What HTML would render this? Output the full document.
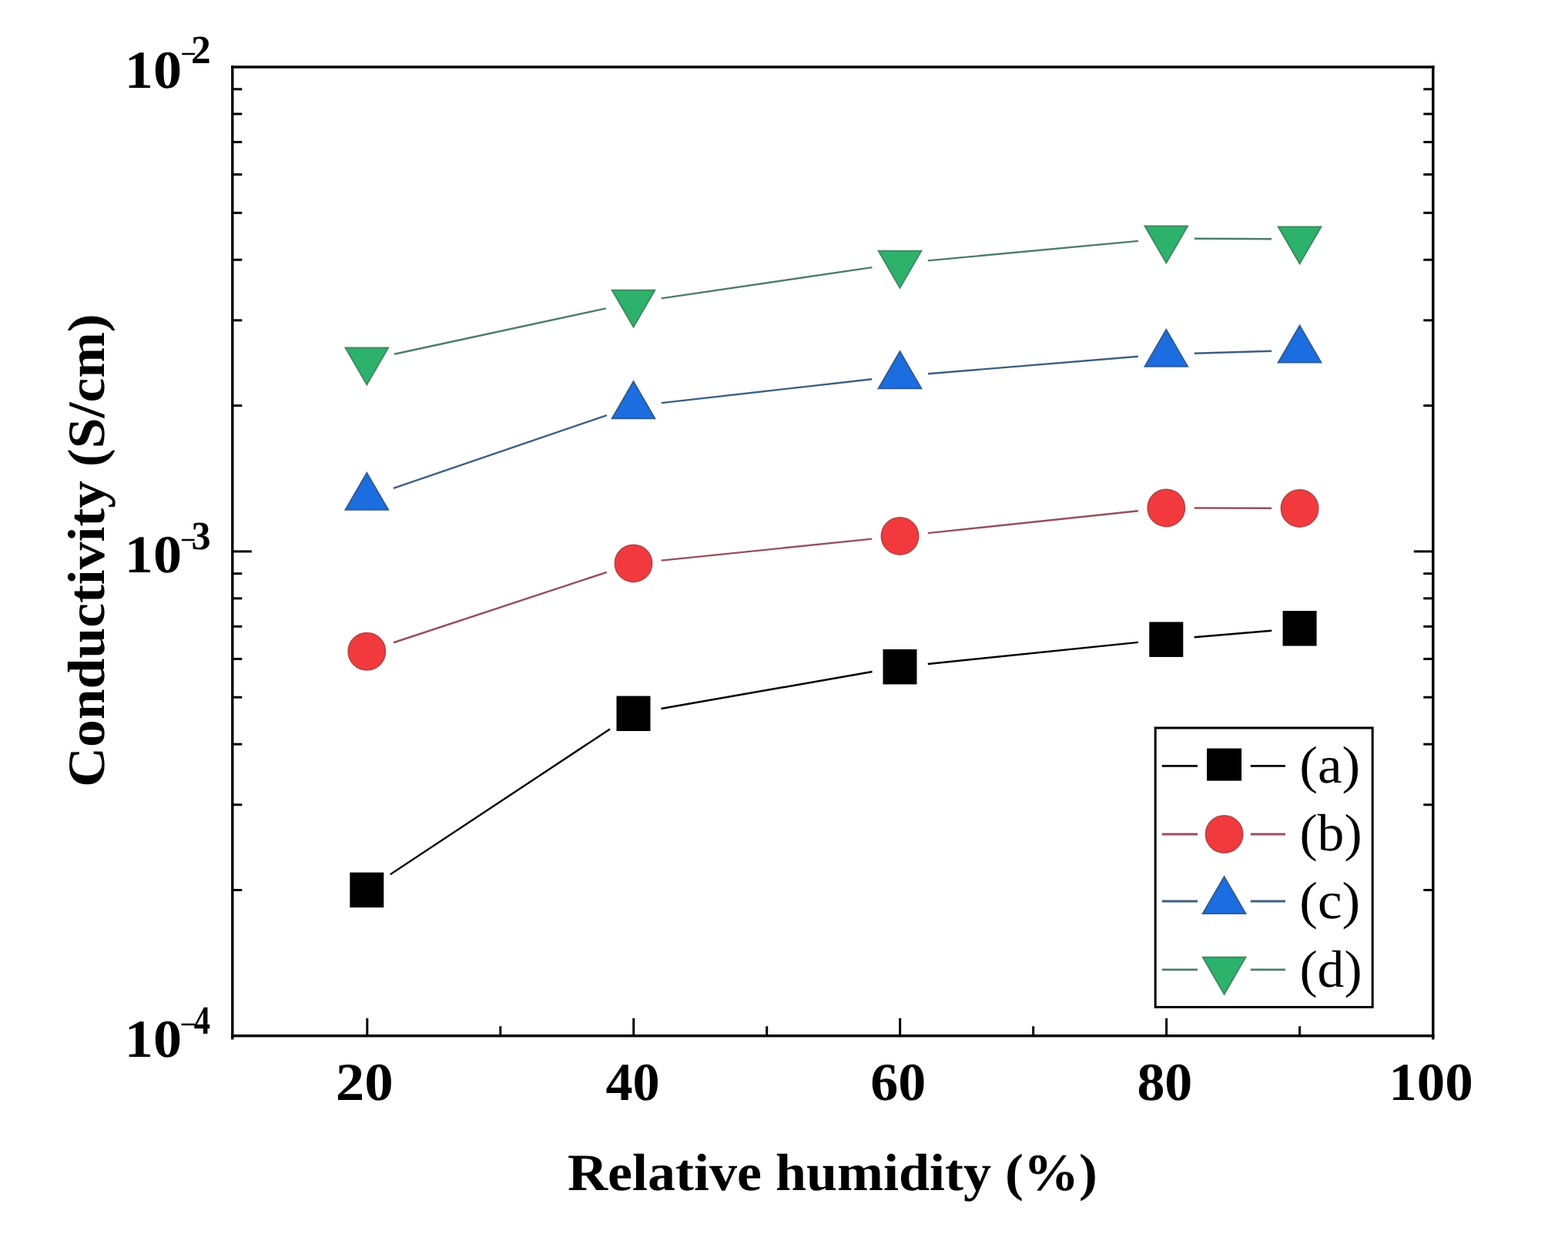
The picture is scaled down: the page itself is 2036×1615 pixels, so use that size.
<!DOCTYPE html>
<html><head><meta charset="utf-8"><title>Conductivity vs Relative humidity</title>
<style>
html,body{margin:0;padding:0;background:#fff;}
svg{display:block;font-kerning:none;text-rendering:geometricPrecision;}
</style></head>
<body>
<svg width="2036" height="1615" viewBox="0 0 2036 1615">
<rect width="2036" height="1615" fill="#fff"/>
<g stroke="#000" stroke-width="3.4" fill="none" stroke-linecap="butt">
<line x1="300.10" y1="87.0" x2="1862.50" y2="87.0"/>
<line x1="300.10" y1="1344.8" x2="1862.50" y2="1344.8"/>
<line x1="301.8" y1="85.30" x2="301.8" y2="1349.60"/>
<line x1="1860.8" y1="85.30" x2="1860.8" y2="1349.60"/>
</g>
<g stroke="#000" stroke-width="3.0" fill="none">
<line x1="301.80" y1="1155.48" x2="314.30" y2="1155.48"/>
<line x1="1860.80" y1="1155.48" x2="1848.30" y2="1155.48"/>
<line x1="301.80" y1="1044.74" x2="314.30" y2="1044.74"/>
<line x1="1860.80" y1="1044.74" x2="1848.30" y2="1044.74"/>
<line x1="301.80" y1="966.16" x2="314.30" y2="966.16"/>
<line x1="1860.80" y1="966.16" x2="1848.30" y2="966.16"/>
<line x1="301.80" y1="905.22" x2="314.30" y2="905.22"/>
<line x1="1860.80" y1="905.22" x2="1848.30" y2="905.22"/>
<line x1="301.80" y1="855.42" x2="314.30" y2="855.42"/>
<line x1="1860.80" y1="855.42" x2="1848.30" y2="855.42"/>
<line x1="301.80" y1="813.32" x2="314.30" y2="813.32"/>
<line x1="1860.80" y1="813.32" x2="1848.30" y2="813.32"/>
<line x1="301.80" y1="776.85" x2="314.30" y2="776.85"/>
<line x1="1860.80" y1="776.85" x2="1848.30" y2="776.85"/>
<line x1="301.80" y1="744.68" x2="314.30" y2="744.68"/>
<line x1="1860.80" y1="744.68" x2="1848.30" y2="744.68"/>
<line x1="301.80" y1="715.90" x2="326.80" y2="715.90"/>
<line x1="1860.80" y1="715.90" x2="1835.80" y2="715.90"/>
<line x1="301.80" y1="526.58" x2="314.30" y2="526.58"/>
<line x1="1860.80" y1="526.58" x2="1848.30" y2="526.58"/>
<line x1="301.80" y1="415.84" x2="314.30" y2="415.84"/>
<line x1="1860.80" y1="415.84" x2="1848.30" y2="415.84"/>
<line x1="301.80" y1="337.26" x2="314.30" y2="337.26"/>
<line x1="1860.80" y1="337.26" x2="1848.30" y2="337.26"/>
<line x1="301.80" y1="276.32" x2="314.30" y2="276.32"/>
<line x1="1860.80" y1="276.32" x2="1848.30" y2="276.32"/>
<line x1="301.80" y1="226.52" x2="314.30" y2="226.52"/>
<line x1="1860.80" y1="226.52" x2="1848.30" y2="226.52"/>
<line x1="301.80" y1="184.42" x2="314.30" y2="184.42"/>
<line x1="1860.80" y1="184.42" x2="1848.30" y2="184.42"/>
<line x1="301.80" y1="147.95" x2="314.30" y2="147.95"/>
<line x1="1860.80" y1="147.95" x2="1848.30" y2="147.95"/>
<line x1="301.80" y1="115.78" x2="314.30" y2="115.78"/>
<line x1="1860.80" y1="115.78" x2="1848.30" y2="115.78"/>
<line x1="476.80" y1="1344.80" x2="476.80" y2="1321.80"/>
<line x1="649.77" y1="1344.80" x2="649.77" y2="1332.30"/>
<line x1="822.74" y1="1344.80" x2="822.74" y2="1321.80"/>
<line x1="995.71" y1="1344.80" x2="995.71" y2="1332.30"/>
<line x1="1168.68" y1="1344.80" x2="1168.68" y2="1321.80"/>
<line x1="1341.65" y1="1344.80" x2="1341.65" y2="1332.30"/>
<line x1="1514.62" y1="1344.80" x2="1514.62" y2="1321.80"/>
<line x1="1687.59" y1="1344.80" x2="1687.59" y2="1332.30"/>
</g>
<g fill="#000" font-family="'Liberation Serif', serif">
<text x="435.75" y="1428.30" font-size="69.5" font-weight="bold" textLength="74.90" lengthAdjust="spacingAndGlyphs">20</text>
<text x="786.44" y="1428.30" font-size="69.5" font-weight="bold" textLength="70.24" lengthAdjust="spacingAndGlyphs">40</text>
<text x="1130.34" y="1428.30" font-size="69.5" font-weight="bold" textLength="72.00" lengthAdjust="spacingAndGlyphs">60</text>
<text x="1476.41" y="1428.30" font-size="69.5" font-weight="bold" textLength="71.93" lengthAdjust="spacingAndGlyphs">80</text>
<text x="1803.15" y="1428.30" font-size="69.5" font-weight="bold" textLength="109.64" lengthAdjust="spacingAndGlyphs">100</text>
<text x="161.75" y="114.00" font-size="69.5" font-weight="bold" textLength="74.28" lengthAdjust="spacingAndGlyphs">10</text>
<text x="233.79" y="77.90" font-size="34" font-weight="normal" textLength="21.67" lengthAdjust="spacingAndGlyphs">-</text>
<text x="248.03" y="81.60" font-size="52" font-weight="bold" textLength="25.78" lengthAdjust="spacingAndGlyphs">2</text>
<text x="161.75" y="742.90" font-size="69.5" font-weight="bold" textLength="74.28" lengthAdjust="spacingAndGlyphs">10</text>
<text x="233.41" y="709.10" font-size="34" font-weight="normal" textLength="21.41" lengthAdjust="spacingAndGlyphs">-</text>
<text x="248.61" y="712.80" font-size="52" font-weight="bold" textLength="25.10" lengthAdjust="spacingAndGlyphs">3</text>
<text x="161.75" y="1371.80" font-size="69.5" font-weight="bold" textLength="74.28" lengthAdjust="spacingAndGlyphs">10</text>
<text x="232.99" y="1338.30" font-size="34" font-weight="normal" textLength="22.56" lengthAdjust="spacingAndGlyphs">-</text>
<text x="251.82" y="1342.00" font-size="52" font-weight="bold" textLength="21.27" lengthAdjust="spacingAndGlyphs">4</text>
<text x="737.07" y="1545.30" font-size="68" font-weight="bold" textLength="687.99" lengthAdjust="spacingAndGlyphs">Relative humidity (%)</text>
</g>
<g fill="#000" font-family="'Liberation Serif', serif" transform="translate(135.2,0) rotate(-90)">
<text x="-1021.80" y="0.00" font-size="68" font-weight="bold" textLength="614.44" lengthAdjust="spacingAndGlyphs">Conductivity (S/cm)</text>
</g>
<line x1="506.74" y1="1135.26" x2="792.06" y2="946.44" stroke="#000000" stroke-width="2.4"/>
<line x1="858.45" y1="920.00" x2="1132.55" y2="872.00" stroke="#000000" stroke-width="2.4"/>
<line x1="1204.81" y1="861.97" x2="1477.99" y2="833.93" stroke="#000000" stroke-width="2.4"/>
<line x1="1550.67" y1="827.18" x2="1651.23" y2="818.82" stroke="#000000" stroke-width="2.4"/>
<line x1="510.96" y1="834.26" x2="787.84" y2="742.84" stroke="#96505c" stroke-width="2.4"/>
<line x1="858.81" y1="727.67" x2="1132.19" y2="699.63" stroke="#96505c" stroke-width="2.4"/>
<line x1="1204.80" y1="692.07" x2="1478.00" y2="663.23" stroke="#96505c" stroke-width="2.4"/>
<line x1="1550.80" y1="659.51" x2="1651.10" y2="659.79" stroke="#96505c" stroke-width="2.4"/>
<line x1="510.83" y1="633.97" x2="787.97" y2="539.03" stroke="#3f5e82" stroke-width="2.4"/>
<line x1="858.77" y1="523.11" x2="1132.23" y2="492.29" stroke="#3f5e82" stroke-width="2.4"/>
<line x1="1204.88" y1="485.21" x2="1477.92" y2="462.79" stroke="#3f5e82" stroke-width="2.4"/>
<line x1="1550.78" y1="458.71" x2="1651.12" y2="455.69" stroke="#3f5e82" stroke-width="2.4"/>
<line x1="511.98" y1="459.79" x2="786.82" y2="400.41" stroke="#4f7c6a" stroke-width="2.4"/>
<line x1="858.61" y1="387.39" x2="1132.39" y2="347.11" stroke="#4f7c6a" stroke-width="2.4"/>
<line x1="1204.84" y1="338.41" x2="1477.96" y2="312.89" stroke="#4f7c6a" stroke-width="2.4"/>
<line x1="1550.80" y1="309.71" x2="1651.10" y2="310.29" stroke="#4f7c6a" stroke-width="2.4"/>
<rect x="454.30" y="1132.65" width="44.0" height="45.5" fill="#000000"/>
<rect x="800.50" y="903.55" width="44.0" height="45.5" fill="#000000"/>
<rect x="1146.50" y="842.95" width="44.0" height="45.5" fill="#000000"/>
<rect x="1492.30" y="807.45" width="44.0" height="45.5" fill="#000000"/>
<rect x="1665.60" y="793.05" width="44.0" height="45.5" fill="#000000"/>
<circle cx="476.30" cy="845.70" r="24.0" fill="#f23a3e" stroke="#c04446" stroke-width="2"/>
<circle cx="822.50" cy="731.40" r="24.0" fill="#f23a3e" stroke="#c04446" stroke-width="2"/>
<circle cx="1168.50" cy="695.90" r="24.0" fill="#f23a3e" stroke="#c04446" stroke-width="2"/>
<circle cx="1514.30" cy="659.40" r="24.0" fill="#f23a3e" stroke="#c04446" stroke-width="2"/>
<circle cx="1687.60" cy="659.90" r="24.0" fill="#f23a3e" stroke="#c04446" stroke-width="2"/>
<polygon points="476.30,613.93 504.05,661.73 448.55,661.73" fill="#1c6de0" stroke="#2f5d92" stroke-width="2" stroke-linejoin="miter"/>
<polygon points="822.50,495.33 850.25,543.13 794.75,543.13" fill="#1c6de0" stroke="#2f5d92" stroke-width="2" stroke-linejoin="miter"/>
<polygon points="1168.50,456.33 1196.25,504.13 1140.75,504.13" fill="#1c6de0" stroke="#2f5d92" stroke-width="2" stroke-linejoin="miter"/>
<polygon points="1514.30,427.93 1542.05,475.73 1486.55,475.73" fill="#1c6de0" stroke="#2f5d92" stroke-width="2" stroke-linejoin="miter"/>
<polygon points="1687.60,422.73 1715.35,470.53 1659.85,470.53" fill="#1c6de0" stroke="#2f5d92" stroke-width="2" stroke-linejoin="miter"/>
<polygon points="476.30,499.37 504.05,451.57 448.55,451.57" fill="#2db26c" stroke="#3f8a62" stroke-width="2" stroke-linejoin="miter"/>
<polygon points="822.50,424.57 850.25,376.77 794.75,376.77" fill="#2db26c" stroke="#3f8a62" stroke-width="2" stroke-linejoin="miter"/>
<polygon points="1168.50,373.67 1196.25,325.87 1140.75,325.87" fill="#2db26c" stroke="#3f8a62" stroke-width="2" stroke-linejoin="miter"/>
<polygon points="1514.30,341.37 1542.05,293.57 1486.55,293.57" fill="#2db26c" stroke="#3f8a62" stroke-width="2" stroke-linejoin="miter"/>
<polygon points="1687.60,342.37 1715.35,294.57 1659.85,294.57" fill="#2db26c" stroke="#3f8a62" stroke-width="2" stroke-linejoin="miter"/>
<rect x="1500.2" y="945.0" width="282.0" height="362.5" fill="none" stroke="#000" stroke-width="3"/>
<line x1="1508.8" y1="994.4" x2="1555.0" y2="994.4" stroke="#000000" stroke-width="2.8"/>
<line x1="1623.8" y1="994.4" x2="1669.0" y2="994.4" stroke="#000000" stroke-width="2.8"/>
<rect x="1567.10" y="971.60" width="45.0" height="42.0" fill="#000000"/>
<line x1="1508.8" y1="1083.0" x2="1555.0" y2="1083.0" stroke="#96505c" stroke-width="2.8"/>
<line x1="1623.8" y1="1083.0" x2="1669.0" y2="1083.0" stroke="#96505c" stroke-width="2.8"/>
<circle cx="1589.60" cy="1083.00" r="24.0" fill="#f23a3e" stroke="#c04446" stroke-width="2"/>
<line x1="1508.8" y1="1170.0" x2="1555.0" y2="1170.0" stroke="#3f5e82" stroke-width="2.8"/>
<line x1="1623.8" y1="1170.0" x2="1669.0" y2="1170.0" stroke="#3f5e82" stroke-width="2.8"/>
<polygon points="1589.60,1138.13 1617.35,1185.93 1561.85,1185.93" fill="#1c6de0" stroke="#2f5d92" stroke-width="2" stroke-linejoin="miter"/>
<line x1="1508.8" y1="1258.8" x2="1555.0" y2="1258.8" stroke="#4f7c6a" stroke-width="2.8"/>
<line x1="1623.8" y1="1258.8" x2="1669.0" y2="1258.8" stroke="#4f7c6a" stroke-width="2.8"/>
<polygon points="1589.60,1290.67 1617.35,1242.87 1561.85,1242.87" fill="#2db26c" stroke="#3f8a62" stroke-width="2" stroke-linejoin="miter"/>
<g fill="#000" font-family="'Liberation Serif', serif">
<text x="1687.37" y="1015.80" font-size="68" font-weight="normal" textLength="78.95" lengthAdjust="spacingAndGlyphs">(a)</text>
<text x="1687.44" y="1104.20" font-size="68" font-weight="normal" textLength="81.11" lengthAdjust="spacingAndGlyphs">(b)</text>
<text x="1687.37" y="1192.40" font-size="68" font-weight="normal" textLength="78.95" lengthAdjust="spacingAndGlyphs">(c)</text>
<text x="1687.44" y="1280.60" font-size="68" font-weight="normal" textLength="81.11" lengthAdjust="spacingAndGlyphs">(d)</text>
</g>
</svg>
</body></html>
